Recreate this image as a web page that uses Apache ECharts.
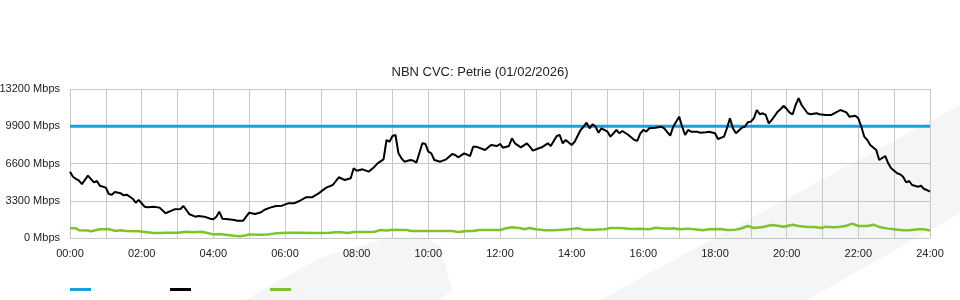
<!DOCTYPE html>
<html>
<head>
<meta charset="utf-8">
<script src="https://cdn.jsdelivr.net/npm/echarts@6/dist/echarts.min.js"></script>
<style>html,body{margin:0;padding:0;background:#fff}#c{width:960px;height:300px}</style>
</head>
<body>
<div id="c"></div>
<script>
// ---- data (minutes since midnight, Mbps) ----
var titleText = 'NBN CVC: Petrie (01/02/2026)';
var seriesNames = ['Capacity', 'Traffic', 'Other'];
var yTicks = [0, 3300, 6600, 9900, 13200];
var capacityMinutes = [0, 1440];
var capacityValues = [9900, 9900];
var blackMinutes = [0,5,10,15,20,30,40,45,50,60,65,70,75,85,90,95,105,110,115,125,130,140,150,160,170,175,185,190,200,210,215,225,235,240,245,250,255,265,275,280,290,295,300,310,320,325,335,345,355,365,375,385,395,405,415,425,430,440,450,460,470,475,480,490,500,510,515,525,530,535,540,545,550,555,560,570,575,580,590,595,600,605,610,620,630,640,645,650,660,670,675,680,695,705,715,720,725,735,740,745,755,765,770,775,785,790,800,805,815,820,825,830,840,845,855,860,865,870,875,880,885,890,900,905,915,920,925,935,945,950,955,960,965,970,980,990,995,1005,1010,1020,1025,1030,1035,1040,1050,1055,1065,1070,1080,1085,1095,1100,1105,1110,1115,1125,1130,1135,1140,1145,1150,1155,1160,1165,1170,1175,1185,1190,1195,1200,1205,1210,1215,1220,1225,1235,1240,1250,1255,1265,1275,1285,1290,1300,1305,1315,1320,1325,1330,1335,1340,1350,1355,1365,1370,1375,1385,1390,1395,1400,1405,1410,1420,1425,1430,1435,1440];
var blackValues = [5875,5430,5230,5080,4780,5520,4930,5050,4630,4460,3900,3840,4075,3960,3780,3840,3480,3130,3370,2770,2720,2770,2690,2190,2420,2540,2570,2835,2100,1890,1950,1890,1710,1660,1890,2330,1710,1660,1595,1535,1535,1890,2240,2125,2275,2480,2690,2835,2865,3070,3070,3300,3600,3600,3900,4310,4490,4695,5380,5140,5290,6175,5960,6085,5875,6320,6615,6970,8680,8530,9040,9125,7500,7060,6760,6910,6850,6670,8390,8330,7650,7500,6910,6760,6970,7440,7355,7150,7500,7265,8090,8090,7800,8240,8150,8330,8000,8150,8830,8390,8035,8390,8090,7735,7950,8035,8390,8150,9040,9125,8390,8680,8240,8530,9570,9860,10215,9720,10075,9860,9330,9720,9420,8975,9570,9275,9480,9125,8680,8620,9275,9570,9420,9720,9775,9860,9720,9065,9860,10750,9860,9125,9570,9420,9420,9330,9360,9420,9275,8770,8975,9720,10605,9720,9275,9775,9860,10250,10310,10605,11340,10960,11050,10900,10160,10455,11190,11430,11720,11430,11100,10960,11785,12380,11785,11050,10960,11050,10960,10900,10900,11190,11340,11135,10750,10835,10605,9860,8975,8680,8240,7800,6910,7265,6615,6175,5730,5640,5430,4930,5050,4695,4545,4630,4340,4250,4100];
var greenMinutes = [0,10,15,30,35,50,65,75,85,95,115,130,140,150,160,180,195,205,220,230,240,250,260,275,285,295,300,320,330,345,365,385,405,420,435,450,465,475,490,510,520,530,540,555,565,570,585,615,640,650,665,675,685,705,720,730,740,755,760,770,780,795,810,825,835,850,860,875,895,905,920,940,955,970,980,990,1005,1010,1020,1035,1045,1060,1070,1090,1100,1115,1125,1135,1145,1160,1175,1185,1195,1210,1220,1235,1245,1260,1265,1280,1290,1300,1310,1320,1335,1345,1355,1370,1380,1395,1405,1420,1430,1440];
var greenValues = [860,860,680,660,590,770,800,630,680,630,600,500,440,440,470,470,560,500,560,440,320,350,290,200,150,240,320,290,320,410,470,470,440,440,470,530,440,530,530,560,710,660,740,710,710,620,620,620,620,530,620,620,710,710,710,860,945,860,770,890,770,680,680,740,770,860,740,740,770,890,890,800,830,770,915,860,830,860,770,830,770,680,770,800,710,740,860,1060,890,980,1150,1090,1000,1180,1060,980,980,890,1000,945,1000,1090,1270,1060,1060,1180,980,830,770,680,680,770,770,660];

function pairs(xs, ys) { return xs.map(function (x, i) { return [x, ys[i]]; }); }
function hhmm(v) { var h = Math.round(v / 60); return (h < 10 ? '0' : '') + h + ':00'; }

var chart = echarts.init(document.getElementById('c'), null, { renderer: 'canvas' });
var FONT = '"Liberation Sans", Arial, sans-serif';
chart.setOption({
  animation: false,
  backgroundColor: '#ffffff',
  textStyle: { fontFamily: FONT },
  graphic: [
    { type: 'polygon', z: -10, silent: true,
      shape: { points: [[600, 300], [960, 105], [960, 213], [807, 300]] },
      style: { fill: '#f4f5f7' } },
    { type: 'polygon', z: -10, silent: true,
      shape: { points: [[245, 300], [320, 258], [380, 240], [420, 237], [440, 245], [452, 290], [440, 300]] },
      style: { fill: '#f4f5f7' } }
  ],
  title: {
    text: titleText, left: 'center', top: 61,
    textStyle: { fontSize: 13, fontWeight: 'normal', color: '#222', fontFamily: FONT }
  },
  legend: {
    left: 65, top: 283, itemWidth: 21, itemHeight: 3, itemGap: 79, icon: 'rect',
    formatter: function () { return ''; },
    data: seriesNames
  },
  grid: { left: 70, right: 30, top: 89, bottom: 62, containLabel: false, outerBoundsMode: 'none' },
  xAxis: {
    type: 'value', min: 0, max: 1440, interval: 60,
    axisLine: { show: false }, axisTick: { show: false },
    splitLine: { show: true, lineStyle: { color: '#c8c8c8', width: 1 } },
    axisLabel: {
      margin: 10, fontSize: 11, color: '#222', fontFamily: FONT,
      formatter: function (v) { return v % 120 === 0 ? hhmm(v) : ''; }
    }
  },
  yAxis: {
    type: 'value', min: yTicks[0], max: yTicks[yTicks.length - 1], interval: yTicks[1] - yTicks[0],
    axisLine: { show: false }, axisTick: { show: false },
    splitLine: { show: true, lineStyle: { color: '#c8c8c8', width: 1 } },
    axisLabel: { margin: 10, fontSize: 11, color: '#222', fontFamily: FONT,
      formatter: function (v) { return String(v) + ' Mbps'; } }
  },
  series: [
    { name: seriesNames[0], type: 'line', data: pairs(capacityMinutes, capacityValues), showSymbol: false,
      lineStyle: { color: '#1a9fdc', width: 3 }, itemStyle: { color: '#1a9fdc' }, z: 3 },
    { name: seriesNames[1], type: 'line', data: pairs(blackMinutes, blackValues), showSymbol: false,
      lineStyle: { color: '#000000', width: 2 }, itemStyle: { color: '#000000' }, z: 4 },
    { name: seriesNames[2], type: 'line', data: pairs(greenMinutes, greenValues), showSymbol: false,
      lineStyle: { color: '#7dc42c', width: 2.5 }, itemStyle: { color: '#7dc42c' }, z: 2 }
  ]
});
</script>
</body>
</html>
